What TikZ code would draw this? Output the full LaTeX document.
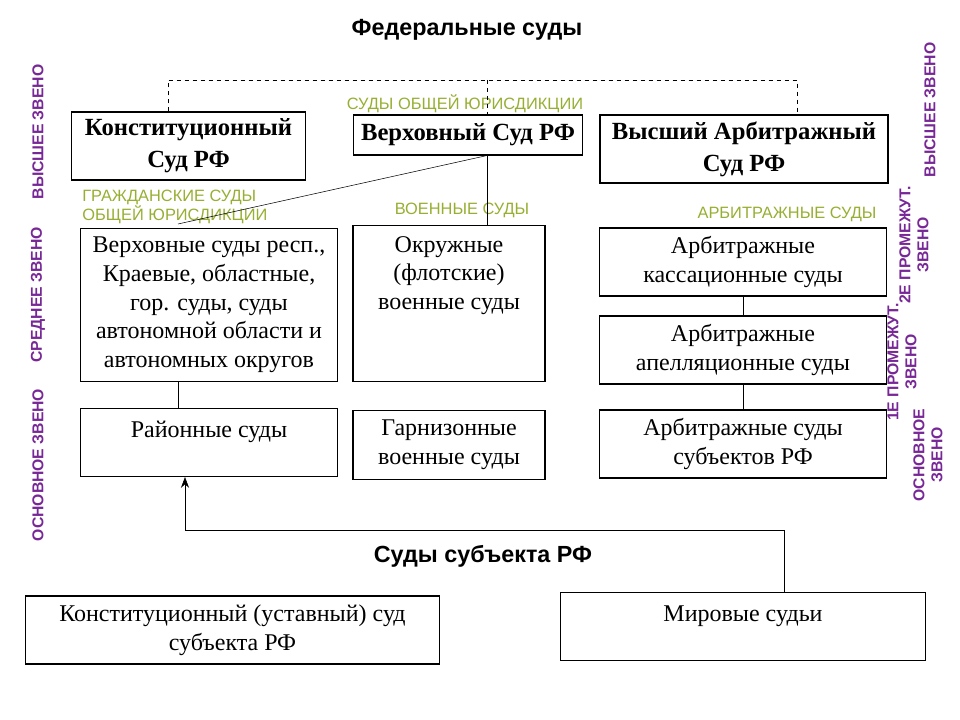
\documentclass[tikz,border=0pt]{standalone}
\usepackage{fontspec}
\setmainfont{Liberation Serif}
\setsansfont{Liberation Sans}
\usetikzlibrary{arrows.meta}
\definecolor{LabelGreen}{RGB}{150,175,50}
\definecolor{LevelPurple}{RGB}{120,40,150}
\tikzset{
  court/.style={draw, thick, rectangle, align=center, inner sep=2pt, font=\fontsize{18}{21.5}\selectfont},
  topcourt/.style={court, font=\fontsize{18.5}{24}\selectfont\bfseries},
  branch/.style={font=\sffamily\fontsize{12.3}{13.5}\selectfont, text=LabelGreen, inner sep=0pt},
  level/.style={font=\sffamily\bfseries\fontsize{11.8}{13.5}\selectfont, text=LevelPurple, rotate=90, align=center, inner sep=0pt},
  heading/.style={font=\sffamily\bfseries\fontsize{17.5}{20}\selectfont}
}
\begin{document}
\begin{tikzpicture}[x=0.75pt, y=-0.75pt]
\useasboundingbox (0,0) rectangle (960,720);
% Headings
\node[heading] (federal) at (467,30) {Федеральные суды};
\node[heading] (subject) at (483,556) {Суды субъекта РФ};

% Top level
\node[topcourt, minimum width=175pt, minimum height=51pt] (konst) at (188.5,146) {Конституционный\\Суд РФ};
\node[topcourt, minimum width=172pt, minimum height=30pt] (vs) at (468,135) {Верховный Суд РФ};
\node[topcourt, minimum width=216pt, minimum height=51pt] (vas) at (744,149) {Высший Арбитражный\\Суд РФ};

% Middle level
\node[court, minimum width=193pt, minimum height=115pt] (regional) at (209,305) {Верховные суды респ.,\\Краевые, областные,\\гор. суды, суды\\автономной области и\\автономных округов};
\node[court, minimum width=144pt, anchor=north, inner ysep=8pt, text depth=46pt] (district) at (449,225) {Окружные\\(флотские)\\военные суды};
\node[court, minimum width=215pt, minimum height=51pt] (cass) at (743,262) {Арбитражные\\кассационные суды};
\node[court, minimum width=215pt, minimum height=51pt] (appeal) at (743,350) {Арбитражные\\апелляционные суды};

% Base level
\node[court, minimum width=193pt, anchor=north, inner ysep=9pt, text height=13pt, text depth=20pt] (rayon) at (209,408) {Районные суды};
\node[court, minimum width=144pt, minimum height=52pt] (garrison) at (449,445) {Гарнизонные\\военные суды};
\node[court, minimum width=215pt, minimum height=51pt] (arbsub) at (743,444) {Арбитражные суды\\субъектов РФ};

% Subject courts
\node[court, minimum width=311pt, minimum height=51pt] (ustav) at (232.5,630) {Конституционный (уставный) суд\\субъекта РФ};
\node[court, minimum width=274pt, anchor=north, inner ysep=9pt, text height=13pt, text depth=20pt] (mir) at (743,592) {Мировые судьи};

% Branch labels
\node[branch] (general) at (465,104) {СУДЫ ОБЩЕЙ ЮРИСДИКЦИИ};
\node[branch, anchor=west, align=left] (civil) at (82,207) {ГРАЖДАНСКИЕ СУДЫ\\ОБЩЕЙ ЮРИСДИКЦИИ};
\node[branch] (military) at (462,210) {ВОЕННЫЕ СУДЫ};
\node[branch] (arbitr) at (787,214) {АРБИТРАЖНЫЕ СУДЫ};

% Level labels
\node[level] (highL) at (38,132) {ВЫСШЕЕ ЗВЕНО};
\node[level] (midL) at (38,295) {СРЕДНЕЕ ЗВЕНО};
\node[level] (baseL) at (38,465) {ОСНОВНОЕ ЗВЕНО};
\node[level] (highR) at (930,110) {ВЫСШЕЕ ЗВЕНО};
\node[level] (inter2) at (914,245) {2Е ПРОМЕЖУТ.\\ЗВЕНО};
\node[level] (inter1) at (902,362) {1Е ПРОМЕЖУТ.\\ЗВЕНО};
\node[level] (baseR) at (928,455) {ОСНОВНОЕ\\ЗВЕНО};

% Connectors
\coordinate (top) at (487,80);
\draw[dashed] (konst.north -| 168,0) |- (top) -| (vas.north -| 797,0);
\draw[dashed] (top) -- (vs.north -| top);
\draw (vs.south -| top) -- (district.north -| top);
\draw (vs.south -| top) -- (178,224);
\draw (regional.south -| 178,0) -- (rayon.north -| 178,0);
\draw (cass) -- (appeal);
\draw (appeal) -- (arbsub);
\coordinate (bend) at (784,530);
\draw[-{Stealth[length=8pt,width=6pt]}] (mir.north -| bend) -- (bend) -| (rayon.south -| 185,0);
\end{tikzpicture}
\end{document}
